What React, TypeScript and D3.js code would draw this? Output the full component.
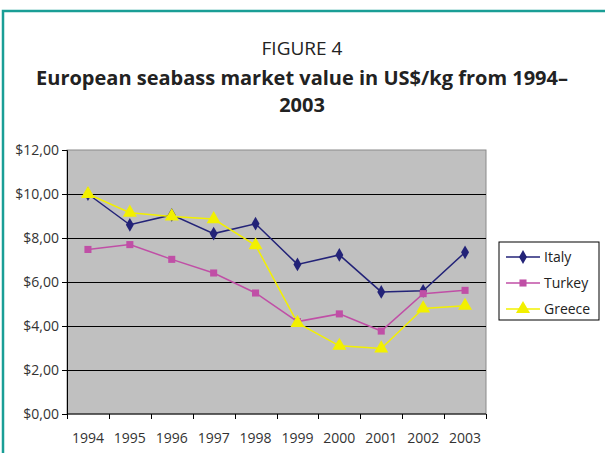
import React, { useRef, useEffect } from 'react';
import * as d3 from 'd3';

const years = ['1994', '1995', '1996', '1997', '1998', '1999', '2000', '2001', '2002', '2003'];
const italy = [10.0, 8.6, 9.05, 8.2, 8.65, 6.8, 7.23, 5.55, 5.6, 7.35];
const turkey = [7.48, 7.7, 7.03, 6.41, 5.5, 4.2, 4.55, 3.77, 5.47, 5.62];
const greece = [10.0, 9.15, 8.98, 8.86, 7.67, 4.14, 3.1, 2.98, 4.8, 4.92];
const seriesNames = ['Italy', 'Turkey', 'Greece'];
const yTicks = [0, 2, 4, 6, 8, 10, 12];

const colors = ['#232378', '#c04fa6', '#f2f000'];
const shapes = [d3.symbolDiamond, d3.symbolSquare, d3.symbolTriangle];
const sizes = [55, 50, 85];

const App = () => {
  const ref = useRef<SVGSVGElement>(null);

  useEffect(() => {
    const W = 605;
    const H = 453;
    const margin = { top: 150, right: 119, bottom: 39, left: 67 };
    const width = W - margin.left - margin.right;
    const height = H - margin.top - margin.bottom;
    const font = '"Open Sans", "Noto Sans", sans-serif';

    const svg = d3.select(ref.current);
    svg.selectAll('*').remove();
    svg.attr('width', W).attr('height', H);

    svg.append('rect').attr('width', W).attr('height', H).attr('fill', '#fff');

    // teal frame
    svg
      .append('path')
      .attr('d', `M3,${H} V11 H${W}`)
      .attr('fill', 'none')
      .attr('stroke', '#1a9e96')
      .attr('stroke-width', 2.5);

    svg
      .append('text')
      .attr('x', 302)
      .attr('y', 55)
      .attr('text-anchor', 'middle')
      .attr('font-family', font)
      .attr('font-size', 19)
      .attr('fill', '#222')
      .text('FIGURE 4');

    const titleLines = ['European seabass market value in US$/kg from 1994–', '2003'];
    titleLines.forEach((t, i) => {
      svg
        .append('text')
        .attr('x', 302)
        .attr('y', 85 + i * 27)
        .attr('text-anchor', 'middle')
        .attr('font-family', font)
        .attr('font-size', 20)
        .attr('font-weight', 'bold')
        .attr('fill', '#222')
        .text(t);
    });

    const g = svg.append('g').attr('transform', `translate(${margin.left},${margin.top})`);

    const x = d3.scaleBand().domain(years).range([0, width]);
    const y = d3.scaleLinear().domain([0, 12]).range([height, 0]);

    g.append('rect')
      .attr('width', width)
      .attr('height', height)
      .attr('fill', '#c0c0c0')
      .attr('stroke', '#8a8a8a')
      .attr('stroke-width', 1);

    g.selectAll('line.grid')
      .data(yTicks.filter((v) => v > 0 && v < 12))
      .enter()
      .append('line')
      .attr('class', 'grid')
      .attr('x1', 0)
      .attr('x2', width)
      .attr('y1', (d) => Math.round(y(d)) + 0.5)
      .attr('y2', (d) => Math.round(y(d)) + 0.5)
      .attr('stroke', '#000')
      .attr('stroke-width', 1);

    const yAxis = d3
      .axisLeft(y)
      .tickValues(yTicks)
      .tickSize(5)
      .tickPadding(3)
      .tickFormat((d) => '$' + d3.format('.2f')(d as number).replace('.', ','));
    const ya = g.append('g').call(yAxis);
    ya.selectAll('text').attr('font-family', font).attr('font-size', 14).attr('fill', '#333');
    ya.select('.domain').attr('stroke', '#000');

    // x axis with ticks at band edges
    const xa = g.append('g').attr('transform', `translate(0,${height})`);
    xa.append('line').attr('x1', 0).attr('x2', width).attr('stroke', '#000');
    xa.selectAll('line.tick')
      .data([...years.map((d) => x(d) as number), width])
      .enter()
      .append('line')
      .attr('x1', (d) => Math.round(d) + 0.5)
      .attr('x2', (d) => Math.round(d) + 0.5)
      .attr('y1', 0)
      .attr('y2', 5)
      .attr('stroke', '#000');
    xa.selectAll('text')
      .data(years)
      .enter()
      .append('text')
      .attr('x', (d) => (x(d) as number) + x.bandwidth() / 2)
      .attr('y', 29)
      .attr('text-anchor', 'middle')
      .attr('font-family', font)
      .attr('font-size', 14)
      .attr('fill', '#333')
      .text((d) => d);

    const allSeries = [italy, turkey, greece];
    const line = d3
      .line<number>()
      .x((_, i) => (x(years[i]) as number) + x.bandwidth() / 2)
      .y((d) => y(d));

    allSeries.forEach((vals, si) => {
      g.append('path')
        .attr('d', line(vals))
        .attr('fill', 'none')
        .attr('stroke', colors[si])
        .attr('stroke-width', 1.5);
    });
    allSeries.forEach((vals, si) => {
      g.selectAll(`path.m${si}`)
        .data(vals)
        .enter()
        .append('path')
        .attr('class', `m${si}`)
        .attr('d', d3.symbol().type(shapes[si]).size(sizes[si])())
        .attr(
          'transform',
          (d, i) => `translate(${(x(years[i]) as number) + x.bandwidth() / 2},${y(d)})`
        )
        .attr('fill', colors[si]);
    });

    // legend
    const lg = svg.append('g').attr('transform', 'translate(499,242)');
    lg.append('rect')
      .attr('width', 100)
      .attr('height', 78)
      .attr('fill', '#fff')
      .attr('stroke', '#000')
      .attr('stroke-width', 1);
    seriesNames.forEach((name, i) => {
      const yy = 15 + i * 26;
      lg.append('line')
        .attr('x1', 7)
        .attr('x2', 41)
        .attr('y1', yy)
        .attr('y2', yy)
        .attr('stroke', colors[i])
        .attr('stroke-width', 1.5);
      lg.append('path')
        .attr('d', d3.symbol().type(shapes[i]).size(sizes[i])())
        .attr('transform', `translate(24,${yy})`)
        .attr('fill', colors[i]);
      lg.append('text')
        .attr('x', 45)
        .attr('y', yy + 5)
        .attr('font-family', font)
        .attr('font-size', 14)
        .attr('fill', '#222')
        .text(name);
    });
  }, []);

  return <svg ref={ref} style={{ position: 'absolute', left: 0, top: 0 }}></svg>;
};

export default App;
